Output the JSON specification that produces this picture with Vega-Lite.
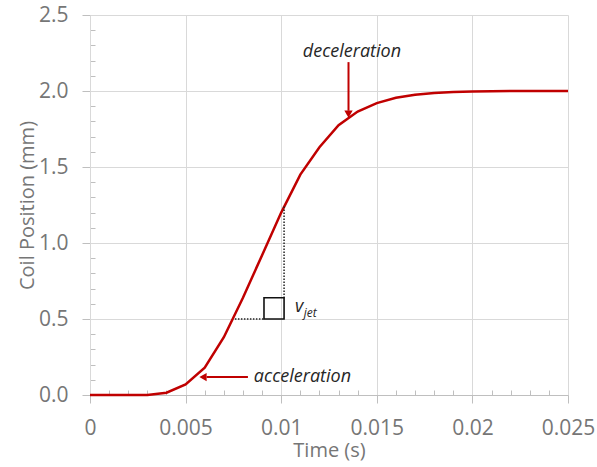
{
  "$schema": "https://vega.github.io/schema/vega-lite/v6.json",
  "autosize": "none",
  "width": 478,
  "height": 380,
  "padding": {"left": 90, "top": 15, "right": 29, "bottom": 72},
  "background": "white",
  "config": {"view": {"stroke": null}, "font": "Open Sans"},
  "datasets": {
    "curve": [
      {"t": 0, "pos": 0}, {"t": 0.001, "pos": 0}, {"t": 0.002, "pos": 0}, {"t": 0.003, "pos": 0.0},
      {"t": 0.004, "pos": 0.015}, {"t": 0.005, "pos": 0.07}, {"t": 0.006, "pos": 0.18},
      {"t": 0.007, "pos": 0.38}, {"t": 0.008, "pos": 0.64}, {"t": 0.009, "pos": 0.92},
      {"t": 0.01, "pos": 1.2}, {"t": 0.011, "pos": 1.45}, {"t": 0.012, "pos": 1.63},
      {"t": 0.013, "pos": 1.775}, {"t": 0.014, "pos": 1.865}, {"t": 0.015, "pos": 1.92},
      {"t": 0.016, "pos": 1.955}, {"t": 0.017, "pos": 1.975}, {"t": 0.018, "pos": 1.987},
      {"t": 0.019, "pos": 1.993}, {"t": 0.02, "pos": 1.997}, {"t": 0.021, "pos": 1.999},
      {"t": 0.022, "pos": 2.0}, {"t": 0.023, "pos": 2.0}, {"t": 0.024, "pos": 2.0}, {"t": 0.025, "pos": 2.0}
    ],
    "dotted": [
      {"seg": "h", "t": 0.00758, "pos": 0.5},
      {"seg": "h", "t": 0.0091, "pos": 0.5},
      {"seg": "v", "t": 0.01015, "pos": 1.24},
      {"seg": "v", "t": 0.01015, "pos": 0.64}
    ],
    "box": [{"t1": 0.0091, "t2": 0.01015, "p1": 0.5, "p2": 0.64}],
    "arrows": [
      {"name": "dec", "t": 0.01352, "pos": 2.19},
      {"name": "dec", "t": 0.01352, "pos": 1.87},
      {"name": "acc", "t": 0.00826, "pos": 0.118},
      {"name": "acc", "t": 0.0061, "pos": 0.118}
    ],
    "heads": [
      {"name": "dec", "t": 0.01352, "pos": 1.848, "shape": "triangle-down"},
      {"name": "acc", "t": 0.00591, "pos": 0.118, "shape": "triangle-left"}
    ],
    "labels": [
      {"label": "deceleration", "t": 0.0137, "pos": 2.224},
      {"label": "acceleration", "t": 0.01111, "pos": 0.0855}
    ]
  },
  "layer": [
    {
      "data": {"name": "curve"},
      "mark": {"type": "line", "color": "#c00000", "strokeWidth": 2.5},
      "encoding": {
        "x": {
          "field": "t", "type": "quantitative",
          "scale": {"domain": [0, 0.025], "nice": false},
          "axis": {
            "title": "Time (s)",
            "values": [0,0.001,0.002,0.003,0.004,0.005,0.006,0.007,0.008,0.009,0.01,0.011,0.012,0.013,0.014,0.015,0.016,0.017,0.018,0.019,0.02,0.021,0.022,0.023,0.024,0.025],
            "tickCount": 40,
            "labelExpr": "round(datum.value*1000)%5===0 ? format(datum.value,'~g') : ''",
            "labelOverlap": false,
            "labelFlush": false,
            "labelFontSize": 21,
            "labelColor": "#767676",
            "labelPadding": 14,
            "titleFontSize": 20,
            "titleFontWeight": "normal",
            "titleColor": "#767676",
            "titlePadding": 2,
            "grid": true,
            "gridColor": {"condition": {"test": "round(datum.value*1000)%5===0", "value": "#d9d9d9"}, "value": "transparent"},
            "gridWidth": 1,
            "domainColor": "#bfbfbf",
            "tickColor": "#bfbfbf",
            "tickSize": {"condition": {"test": "round(datum.value*1000)%5===0", "value": 8}, "value": -5}
          }
        },
        "y": {
          "field": "pos", "type": "quantitative",
          "scale": {"domain": [0, 2.5], "nice": false},
          "axis": {
            "title": "Coil Position (mm)",
            "values": [0,0.1,0.2,0.3,0.4,0.5,0.6,0.7,0.8,0.9,1,1.1,1.2,1.3,1.4,1.5,1.6,1.7,1.8,1.9,2,2.1,2.2,2.3,2.4,2.5],
            "tickCount": 40,
            "labelExpr": "round(datum.value*10)%5===0 ? format(datum.value,'.1f') : ''",
            "labelOverlap": false,
            "labelFlush": false,
            "labelFontSize": 21,
            "labelColor": "#767676",
            "labelPadding": 14,
            "titleFontSize": 20,
            "titleFontWeight": "normal",
            "titleColor": "#767676",
            "titlePadding": 1,
            "grid": true,
            "gridColor": {"condition": {"test": "round(datum.value*10)%5===0", "value": "#d9d9d9"}, "value": "transparent"},
            "domainColor": "#d9d9d9",
            "tickColor": "#bfbfbf",
            "tickSize": {"condition": {"test": "round(datum.value*10)%5===0", "value": 8}, "value": -5}
          }
        }
      }
    },
    {
      "data": {"name": "dotted"},
      "mark": {"type": "line", "color": "#222222", "strokeWidth": 1.5, "strokeDash": [1.5, 1.5]},
      "encoding": {
        "x": {"field": "t", "type": "quantitative"},
        "y": {"field": "pos", "type": "quantitative"},
        "detail": {"field": "seg"}
      }
    },
    {
      "data": {"name": "box"},
      "mark": {"type": "rect", "fill": null, "fillOpacity": 0, "stroke": "#111111", "strokeWidth": 1.6},
      "encoding": {
        "x": {"field": "t1", "type": "quantitative"},
        "x2": {"field": "t2"},
        "y": {"field": "p1", "type": "quantitative"},
        "y2": {"field": "p2"}
      }
    },
    {
      "data": {"name": "arrows"},
      "mark": {"type": "line", "color": "#c00000", "strokeWidth": 2},
      "encoding": {
        "x": {"field": "t", "type": "quantitative"},
        "y": {"field": "pos", "type": "quantitative"},
        "detail": {"field": "name"}
      }
    },
    {
      "data": {"name": "heads"},
      "mark": {"type": "point", "filled": true, "color": "#c00000", "opacity": 1, "size": 70},
      "encoding": {
        "x": {"field": "t", "type": "quantitative"},
        "y": {"field": "pos", "type": "quantitative"},
        "shape": {"field": "shape", "type": "nominal", "scale": null, "legend": null}
      }
    },
    {
      "data": {"name": "labels"},
      "mark": {"type": "text", "fontStyle": "italic", "fontSize": 18, "color": "#262626", "baseline": "alphabetic", "align": "center"},
      "encoding": {
        "x": {"field": "t", "type": "quantitative"},
        "y": {"field": "pos", "type": "quantitative"},
        "text": {"field": "label"}
      }
    },
    {
      "data": {"values": [{"txt": "v", "t": 0.01072, "pos": 0.546, "fs": 18}, {"txt": "jet", "t": 0.01118, "pos": 0.513, "fs": 12}]},
      "mark": {"type": "text", "fontStyle": "italic", "color": "#262626", "baseline": "alphabetic", "align": "left"},
      "encoding": {
        "x": {"field": "t", "type": "quantitative"},
        "y": {"field": "pos", "type": "quantitative"},
        "text": {"field": "txt"},
        "size": {"field": "fs", "type": "quantitative", "scale": null, "legend": null}
      }
    }
  ]
}
